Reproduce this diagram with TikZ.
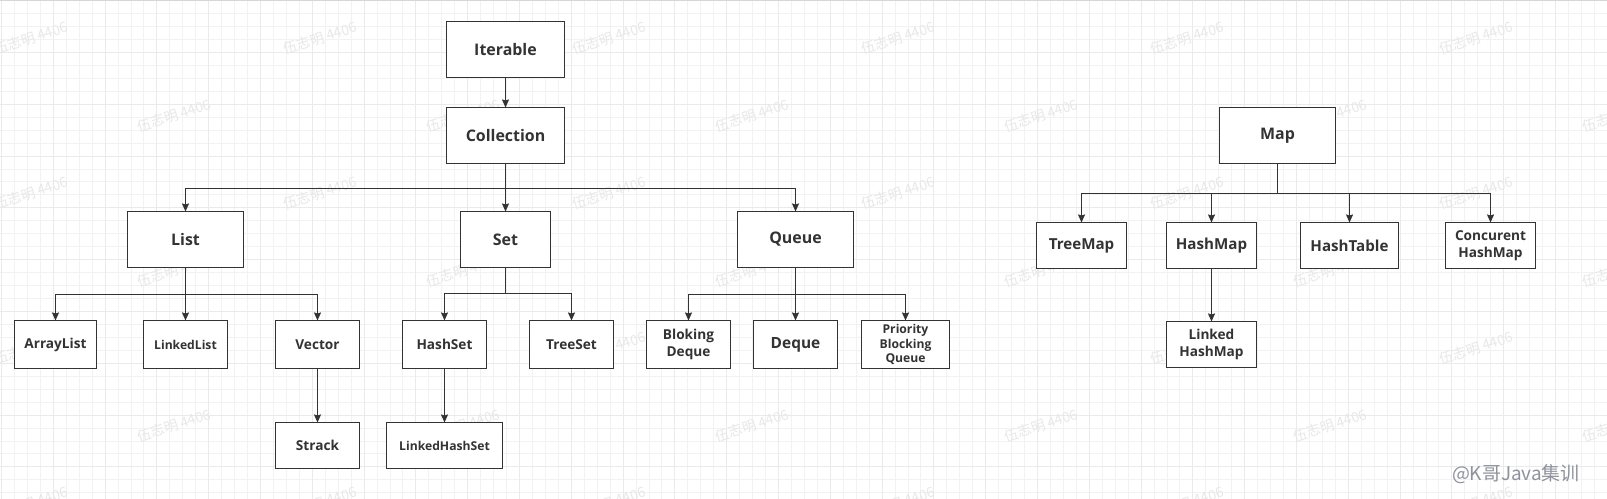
\documentclass[tikz,border=0pt]{standalone}
\usepackage{fontspec}
\setmainfont{Open Sans}
\newfontfamily\cjk{Noto Sans CJK SC}
\usetikzlibrary{arrows.meta}
\definecolor{ink}{HTML}{333333}
\definecolor{gridminor}{HTML}{F2F2F2}
\definecolor{gridmajor}{HTML}{EAEAEA}
\definecolor{wmcol}{HTML}{E8E8E8}
\definecolor{sigcol}{HTML}{8E929B}
\definecolor{topline}{HTML}{D6D6D6}
\tikzset{
  box/.style={draw=ink, line width=1.2bp, fill=white, inner sep=0pt, outer sep=0pt, align=center, text=ink},
  fbig/.style={font=\fontsize{16}{19}\selectfont\bfseries},
  fdeq/.style={font=\fontsize{15.5}{19}\selectfont\bfseries},
  fmap/.style={font=\fontsize{15.2}{18}\selectfont\bfseries},
  fmid/.style={font=\fontsize{13.7}{17}\selectfont\bfseries},
  fsmall/.style={font=\fontsize{12.2}{14.5}\selectfont\bfseries},
  arr/.style={draw=ink, line width=1.2bp, -{Stealth[length=8bp,width=7bp,inset=1bp]}},
  wmark/.style={rotate=18, text=wmcol, font=\cjk\fontsize{14}{14}\selectfont, inner sep=0pt},
}
\begin{document}
\begin{tikzpicture}[x=1bp,y=-1bp]
\fill[white] (0,0) rectangle (1607,499);
\useasboundingbox (0,0) rectangle (1607,499);
% grid
\foreach \i in {0,...,124} {
  \draw[gridminor, line width=1bp] ({1.5+12.95*\i},0) -- ({1.5+12.95*\i},499);
}
\foreach \j in {0,...,38} {
  \draw[gridminor, line width=1bp] (0,{0.7+12.95*\j}) -- (1607,{0.7+12.95*\j});
}
\foreach \i in {0,4,...,124} {
  \draw[gridmajor, line width=1bp] ({1.5+12.95*\i},0) -- ({1.5+12.95*\i},499);
}
\foreach \j in {0,4,...,38} {
  \draw[gridmajor, line width=1bp] (0,{0.7+12.95*\j}) -- (1607,{0.7+12.95*\j});
}
\draw[topline, line width=1.2bp] (0,0.6) -- (1607,0.6);

% watermarks
\foreach \k in {0,...,6} {
  \foreach \j in {0,...,5} {
    \pgfmathsetmacro\wx{31+289*\j+143*mod(\k,2)}
    \pgfmathsetmacro\wy{38+77.5*\k}
    \node[wmark] (wm-\k-\j) at (\wx,\wy) {伍志明 4406};
  }
}

% nodes
\node[box, fbig, minimum width=118bp, minimum height=56bp] (iter) at (505.5,49.5) {Iterable};
\node[box, fbig, minimum width=118bp, minimum height=56bp] (coll) at (505.5,135.5) {Collection};
\node[box, fbig, minimum width=116bp, minimum height=56bp] (list) at (185.5,239.5) {List};
\node[box, fbig, minimum width=90bp, minimum height=56bp] (set) at (505.5,239.5) {Set};
\node[box, fbig, minimum width=116bp, minimum height=56bp] (queue) at (795.5,239.5) {Queue};

\node[box, fmid, minimum width=82bp, minimum height=48bp] (alist) at (55.5,344.5) {ArrayList};
\node[box, fsmall, minimum width=84bp, minimum height=48bp] (llist) at (185.5,344.5) {LinkedList};
\node[box, fmid, minimum width=84bp, minimum height=48bp] (vector) at (317.5,344.5) {Vector};
\node[box, fmid, minimum width=84bp, minimum height=46bp] (strack) at (317.5,445.5) {Strack};
\node[box, fmid, minimum width=84bp, minimum height=48bp] (hset) at (444.5,344.5) {HashSet};
\node[box, fmid, minimum width=84bp, minimum height=48bp] (tset) at (571.5,344.5) {TreeSet};
\node[box, fsmall, minimum width=116bp, minimum height=46bp] (lhset) at (444.5,445.5) {LinkedHashSet};
\node[box, fmid, minimum width=84bp, minimum height=48bp] (bdeque) at (688.5,344.5) {Bloking\\Deque};
\node[box, fdeq, minimum width=84bp, minimum height=48bp] (deque) at (795.5,344.5) {Deque};
\node[box, fsmall, minimum width=88bp, minimum height=48bp] (pbq) at (905.5,344.5) {Priority\\Blocking\\Queue};

\node[box, fbig, minimum width=116bp, minimum height=56bp] (map) at (1277.5,135.5) {Map};
\node[box, fmap, minimum width=90bp, minimum height=46bp] (tmap) at (1081.5,245.5) {TreeMap};
\node[box, fmap, minimum width=90bp, minimum height=46bp] (hmap) at (1211.5,245.5) {HashMap};
\node[box, fmap, minimum width=98bp, minimum height=46bp] (htable) at (1349.5,245.5) {HashTable};
\node[box, fmid, minimum width=90bp, minimum height=46bp] (chmap) at (1490.5,245.5) {Concurent\\HashMap};
\node[box, fmid, minimum width=90bp, minimum height=46bp] (lhmap) at (1211.5,344.5) {Linked\\HashMap};

% bus coordinates
\coordinate (busC) at (0,188.5);
\coordinate (busL) at (0,294.5);
\coordinate (busS) at (0,293.5);
\coordinate (busQ) at (0,294.5);
\coordinate (busM) at (0,193.5);

% connectors
\draw[arr] (iter.south) -- (coll.north);
\foreach \c in {list,set,queue} {
  \draw[arr] (coll.south) -- (coll.south |- busC) -| (\c.north);
}
\foreach \c in {alist,llist,vector} {
  \draw[arr] (list.south) -- (list.south |- busL) -| (\c.north);
}
\draw[arr] (vector.south) -- (strack.north);
\foreach \c in {hset,tset} {
  \draw[arr] (set.south) -- (set.south |- busS) -| (\c.north);
}
\draw[arr] (hset.south) -- (lhset.north);
\foreach \c in {bdeque,deque,pbq} {
  \draw[arr] (queue.south) -- (queue.south |- busQ) -| (\c.north);
}
\foreach \c in {tmap,hmap,htable,chmap} {
  \draw[arr] (map.south) -- (map.south |- busM) -| (\c.north);
}
\draw[arr] (hmap.south) -- (lhmap.north);

\node[anchor=base east, text=sigcol, font=\cjk\fontsize{19}{19}\selectfont, inner sep=0pt] (sig) at (1580,480) {@K哥Java集训};
\end{tikzpicture}
\end{document}
